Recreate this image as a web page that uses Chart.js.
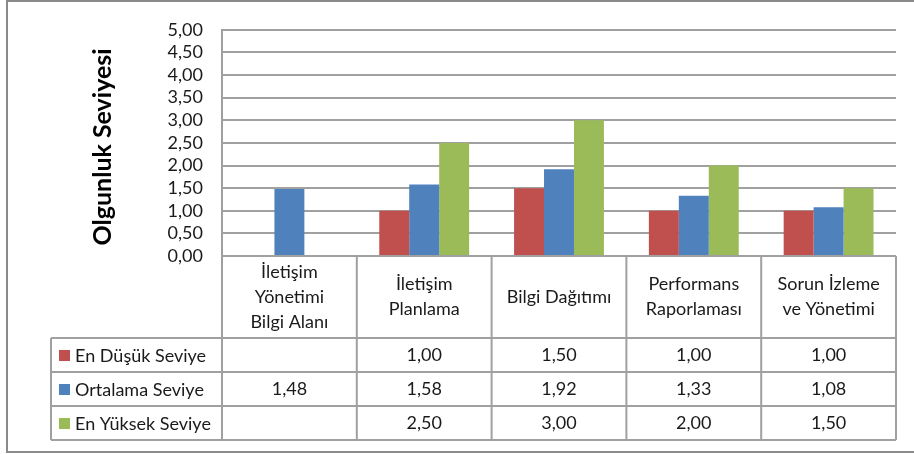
<!DOCTYPE html>
<html>
<head>
<meta charset="utf-8">
<script src="https://cdn.jsdelivr.net/npm/chart.js@4.4.1/dist/chart.umd.min.js"></script>
<style>
  html, body { margin: 0; padding: 0; background: #ffffff; }
  #wrap { width: 914px; height: 454px; position: relative; }
</style>
</head>
<body>
<div id="wrap"><canvas id="c" width="914" height="454"></canvas></div>
<script>
// ---- data ----
const categories = [
  ["İletişim", "Yönetimi", "Bilgi Alanı"],
  ["İletişim", "Planlama"],
  ["Bilgi Dağıtımı"],
  ["Performans", "Raporlaması"],
  ["Sorun İzleme", "ve Yönetimi"]
];
const seriesNames = ["En Düşük Seviye", "Ortalama Seviye", "En Yüksek Seviye"];
const lowValues  = [null, 1.00, 1.50, 1.00, 1.00];
const avgValues  = [1.48, 1.58, 1.92, 1.33, 1.08];
const highValues = [null, 2.50, 3.00, 2.00, 1.50];
const yTicks = [0, 0.5, 1, 1.5, 2, 2.5, 3, 3.5, 4, 4.5, 5];
const yTitle = "Olgunluk Seviyesi";

const colors = ["#C0504D", "#4F81BD", "#9BBB59"];
const FONT = "Lato";
const FS = 18;
const TEXT = "#1a1a1a";
const LINE = "#a0a0a0";

function fmt(v) { return v == null ? "" : v.toFixed(2).replace(".", ","); }

const tablePlugin = {
  id: "dataTable",
  afterDraw(chart) {
    const ctx = chart.ctx;
    const xs = chart.scales.x;
    const ca = chart.chartArea;
    const n = categories.length;
    // category boundaries from the scale
    const half = (xs.getPixelForValue(1) - xs.getPixelForValue(0)) / 2;
    const bounds = [];
    for (let i = 0; i < n; i++) bounds.push(xs.getPixelForValue(i) - half);
    bounds.push(xs.getPixelForValue(n - 1) + half);

    const top = ca.bottom;
    const headerBottom = 338;
    const rowH = 34;
    const rows = [headerBottom, headerBottom + rowH, headerBottom + 2 * rowH, headerBottom + 3 * rowH];
    const legendLeft = 51;

    ctx.save();
    ctx.strokeStyle = LINE;
    ctx.lineWidth = 2;
    ctx.beginPath();
    // horizontal lines
    rows.forEach(y => { ctx.moveTo(legendLeft, y); ctx.lineTo(bounds[n], y); });
    // vertical lines
    ctx.moveTo(legendLeft, rows[0]); ctx.lineTo(legendLeft, rows[3]);
    bounds.forEach(x => { ctx.moveTo(x, top); ctx.lineTo(x, rows[3]); });
    ctx.stroke();

    ctx.fillStyle = TEXT;
    ctx.font = FS + "px " + FONT;
    ctx.textAlign = "center";
    ctx.textBaseline = "middle";
    const lh = 25;
    const hc = (top + headerBottom) / 2;
    categories.forEach((lines, i) => {
      const cx = xs.getPixelForValue(i);
      const y0 = hc - (lines.length - 1) * lh / 2;
      lines.forEach((t, k) => ctx.fillText(t, cx, y0 + k * lh));
    });
    const data = [lowValues, avgValues, highValues];
    data.forEach((arr, r) => {
      const cy = rows[r] + rowH / 2;
      arr.forEach((v, i) => ctx.fillText(fmt(v), xs.getPixelForValue(i), cy));
      // legend key
      ctx.fillStyle = colors[r];
      ctx.fillRect(59, cy - 5, 11, 11);
      ctx.fillStyle = TEXT;
      ctx.textAlign = "left";
      ctx.fillText(seriesNames[r], 75, cy + 1);
      ctx.textAlign = "center";
    });

    // y axis title
    ctx.save();
    ctx.translate(103, (ca.top + ca.bottom) / 2 + 4);
    ctx.rotate(-Math.PI / 2);
    ctx.font = "bold 25px " + FONT;
    ctx.fillStyle = "#000";
    ctx.fillText(yTitle, 0, 0);
    ctx.restore();

    // outer border
    ctx.strokeStyle = "#8a8a8a";
    ctx.lineWidth = 2;
    ctx.strokeRect(7, 1, 930, 451);
    ctx.restore();
  }
};

new Chart(document.getElementById("c"), {
  type: "bar",
  data: {
    labels: categories.map(l => l.join(" ")),
    datasets: [
      { label: seriesNames[0], data: lowValues, backgroundColor: colors[0] },
      { label: seriesNames[1], data: avgValues, backgroundColor: colors[1] },
      { label: seriesNames[2], data: highValues, backgroundColor: colors[2] }
    ]
  },
  options: {
    responsive: false,
    animation: false,
    devicePixelRatio: 1,
    categoryPercentage: 2 / 3,
    barPercentage: 1,
    layout: { padding: { top: 29, right: 18, bottom: 198, left: 0 } },
    plugins: { legend: { display: false }, tooltip: { enabled: false }, title: { display: false } },
    scales: {
      x: { display: false },
      y: {
        min: 0, max: 5,
        afterFit(s) { s.width = 222; },
        afterBuildTicks(s) { s.ticks = yTicks.map(v => ({ value: v })); },
        ticks: {
          autoSkip: false,
          padding: 19,
          color: TEXT,
          font: { family: FONT, size: FS },
          callback: v => fmt(v)
        },
        grid: { color: LINE, lineWidth: 2, drawTicks: false },
        border: { display: true, color: LINE, width: 2 }
      }
    }
  },
  plugins: [tablePlugin]
});
</script>
</body>
</html>
